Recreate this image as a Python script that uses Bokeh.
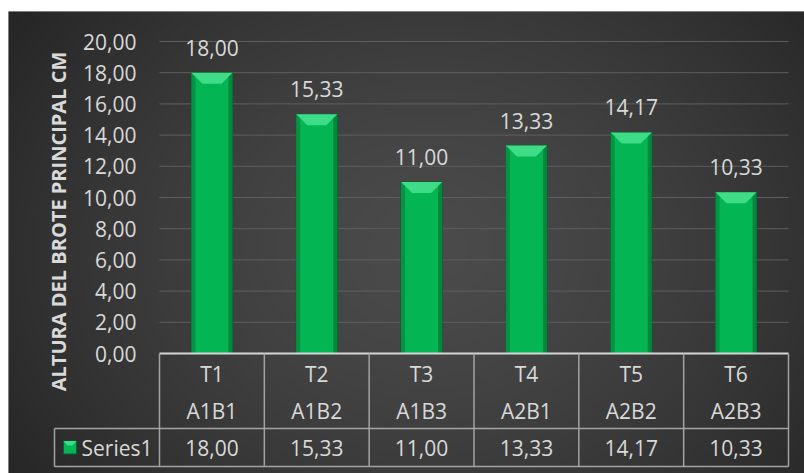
import numpy as np
from bokeh.plotting import figure
from bokeh.models import LinearAxis, FixedTicker, Range1d, ColumnDataSource
from bokeh.core.properties import value
from bokeh.embed import file_html
from bokeh.resources import INLINE

# ---- data ----
categories = ["T1", "T2", "T3", "T4", "T5", "T6"]
subcategories = ["A1B1", "A1B2", "A1B3", "A2B1", "A2B2", "A2B3"]
values = [18.00, 15.33, 11.00, 13.33, 14.17, 10.33]
series_name = "Series1"
y_ticks = [0, 2, 4, 6, 8, 10, 12, 14, 16, 18, 20]
y_title = "ALTURA DEL BROTE PRINCIPAL CM"


def fmt(v):
    return f"{v:.2f}".replace(".", ",")


# ---- layout (page pixels) ----
W, H = 804, 473
FX0, FX1, FY0, FY1 = 8, 804, 11, 473          # dark frame
PX_X0, PX_XN = 159, 788                          # plot area left/right
PY_0, PY_20 = 353, 41                            # y=0 and y=20 pixels
n = len(categories)
u = (PX_XN - PX_X0) / n
v = (PY_0 - PY_20) / 20.0


def xd(px):
    return (px - PX_X0) / u


def yd(py):
    return (PY_0 - py) / v


FONT = value("Open Sans")
TXT = "#d9d9d9"
FS = "21px"

p = figure(width=W, height=H, output_backend="svg", toolbar_location=None,
           x_range=Range1d(xd(FX0), xd(FX1)), y_range=Range1d(yd(FY1), yd(FY0)),
           x_axis_location=None, y_axis_location=None,
           min_border_left=FX0, min_border_top=FY0, min_border_right=0, min_border_bottom=0)
p.border_fill_color = "white"
p.outline_line_color = None
p.background_fill_color = "#3a3a3a"
p.xgrid.visible = False
p.ygrid.visible = False

# ---- background gradient ----
gw, gh = 398, 231
gx = np.linspace(FX0, FX1, gw)
gy = np.linspace(FY1, FY0, gh)   # first row = bottom
GX, GY = np.meshgrid(gx, gy)
d = np.sqrt(((GX - 430) / 520.0) ** 2 + ((GY - 250) / 420.0) ** 2)
t = np.clip(d, 0, 1) ** 1.4
c0, c1 = 0x4b, 0x25
c = (c0 + (c1 - c0) * t).astype(np.uint32)
img = (255 << 24) | (c << 16) | (c << 8) | c
p.image_rgba(image=[img.astype(np.uint32)], x=xd(FX0), y=yd(FY1),
             dw=xd(FX1) - xd(FX0), dh=yd(FY0) - yd(FY1))

# ---- gridlines ----
grid_y = [t_ for t_ in y_ticks if t_ > 0]
p.segment(x0=[0] * len(grid_y), x1=[n] * len(grid_y), y0=grid_y, y1=grid_y,
          line_color="#5e5e5e", line_width=1)

# ---- bars ----
xs = [i + 0.5 for i in range(n)]
bw = 41 / u
src = ColumnDataSource(dict(x=xs, top=values, cat=categories, sub=subcategories,
                            lab=[fmt(vv) for vv in values]))
p.vbar(x="x", top="top", bottom=0, width=bw, source=src,
       fill_color="#03b553", line_color="#0a5f30", line_width=1)
# side shading
side = 4 / u
p.quad(left=[x - bw / 2 for x in xs], right=[x - bw / 2 + side for x in xs],
       bottom=0, top=values, fill_color="#029443", line_color=None)
p.quad(left=[x + bw / 2 - side for x in xs], right=[x + bw / 2 for x in xs],
       bottom=0, top=values, fill_color="#02883d", line_color=None)
# top bevel
bx, by = 11 / u, 11 / v
p.patches(xs=[[x - bw / 2, x + bw / 2, x + bw / 2 - bx, x - bw / 2 + bx] for x in xs],
          ys=[[vv, vv, vv - by, vv - by] for vv in values],
          fill_color="#3fdc88", line_color=None)

# ---- data labels ----
p.text(x="x", y="top", text="lab", source=src, text_align="center",
       text_baseline="alphabetic", y_offset=-25, text_color=TXT,
       text_font=FONT, text_font_size=FS)

# ---- y axis ----
ax = LinearAxis(fixed_location=0, ticker=FixedTicker(ticks=y_ticks),
                major_label_overrides={t_: fmt(t_) for t_ in y_ticks})
ax.axis_line_color = None
ax.major_tick_line_color = None
ax.minor_tick_line_color = None
ax.major_tick_out = 0
ax.major_tick_in = 0
ax.major_label_standoff = 23
ax.major_label_text_color = TXT
ax.major_label_text_font = "Open Sans"
ax.major_label_text_font_size = FS
p.add_layout(ax, "left")

# ---- y title ----
p.text(x=[xd(58)], y=[yd(221)], text=[y_title], angle=np.pi / 2,
       text_align="center", text_baseline="middle", text_color=TXT,
       text_font=FONT, text_font_size="20px", text_font_style="bold")

# ---- data table ----
LINE = "#a3a3a3"
r1, r2 = yd(428), yd(466)
p.segment(x0=[0], x1=[n], y0=[0], y1=[0], line_color="#d6d6d6", line_width=2)
p.segment(x0=[xd(54), xd(54)], x1=[n, n], y0=[r1, r2], y1=[r1, r2],
          line_color=LINE, line_width=1.5)
vx = list(range(n + 1))
p.segment(x0=vx, x1=vx, y0=[0] * len(vx), y1=[r2] * len(vx),
          line_color=LINE, line_width=1.5)
p.segment(x0=[xd(54)], x1=[xd(54)], y0=[r1], y1=[r2], line_color=LINE, line_width=1.5)

p.text(x="x", y=yd(373), text="cat", source=src, text_align="center",
       text_baseline="middle", text_color=TXT, text_font=FONT, text_font_size=FS)
p.text(x="x", y=yd(410), text="sub", source=src, text_align="center",
       text_baseline="middle", text_color=TXT, text_font=FONT, text_font_size=FS)
p.text(x="x", y=yd(447), text="lab", source=src, text_align="center",
       text_baseline="middle", text_color=TXT, text_font=FONT, text_font_size=FS)

# legend key
p.rect(x=[xd(69.5)], y=[yd(447)], width=13 / u, height=13 / v,
       fill_color="#03b553", line_color="#0a5f30")
p.patches(xs=[[xd(63), xd(76), xd(72), xd(67)]], ys=[[yd(440.5), yd(440.5), yd(445), yd(445)]],
          fill_color="#3fdc88", line_color=None)
p.text(x=[xd(81)], y=[yd(447)], text=[series_name], text_align="left",
       text_baseline="middle", text_color=TXT, text_font=FONT, text_font_size=FS)

open("out.html", "w").write(file_html(p, INLINE))
